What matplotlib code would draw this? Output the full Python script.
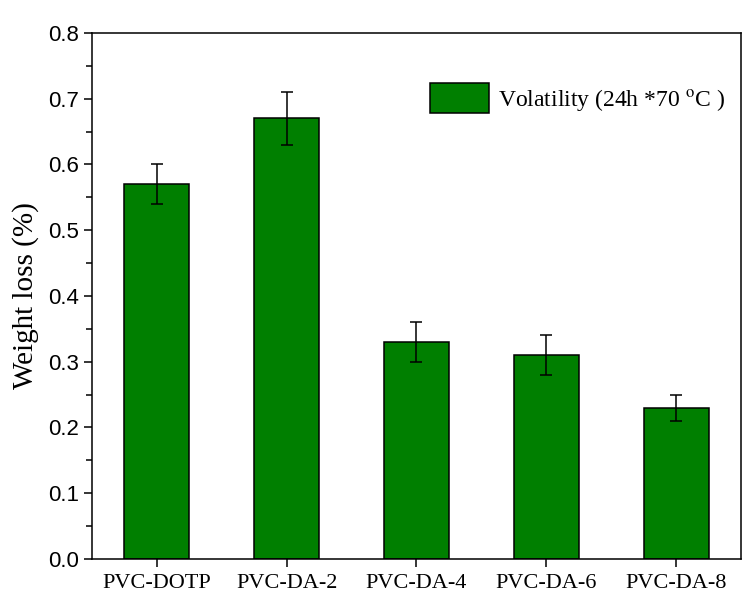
import numpy as np
import matplotlib
matplotlib.use("Agg")
import matplotlib.pyplot as plt
from matplotlib.ticker import MultipleLocator

samples = ["PVC-DOTP", "PVC-DA-2", "PVC-DA-4", "PVC-DA-6", "PVC-DA-8"]
weight_loss = [0.57, 0.67, 0.33, 0.31, 0.23]
loss_err = [0.03, 0.04, 0.03, 0.03, 0.02]

plt.rcParams['font.family'] = ['Liberation Serif', 'DejaVu Serif']
plt.rcParams['mathtext.fontset'] = 'stix'

fig = plt.figure(figsize=(7.43, 5.99), dpi=100)
ax = fig.add_axes([0.1238, 0.0668, 0.8735, 0.8782])

x = np.arange(len(samples))
ax.bar(x, weight_loss, width=0.5, color='#007f00', edgecolor='black', linewidth=1.1,
       yerr=loss_err, capsize=4.5, error_kw={'elinewidth': 1.1, 'capthick': 1.1, 'ecolor': 'black'},
       label=r'Volatility (24h *70 $^{\mathrm{o}}$C )', zorder=2)

ax.set_xlim(-0.5, 4.5)
ax.set_ylim(0, 0.8)
ax.yaxis.set_major_locator(MultipleLocator(0.1))
ax.yaxis.set_minor_locator(MultipleLocator(0.05))
ax.set_xticks(x)
ax.set_xticklabels(samples, fontsize=16)
for lbl in ax.get_yticklabels():
    lbl.set_fontfamily('Liberation Sans')
    lbl.set_fontsize(16)
ax.tick_params(axis='both', which='major', direction='out', length=6, width=1.1)
ax.tick_params(axis='y', which='minor', direction='out', length=4, width=1.1)
ax.tick_params(axis='x', pad=5)
for s in ax.spines.values():
    s.set_linewidth(1.1)

ax.set_ylabel('Weight loss (%)', fontsize=21, labelpad=6)

# legend sits in the upper right, no frame
ax.legend(loc='upper right', bbox_to_anchor=(1.009, 0.945), frameon=False, fontsize=17,
          handlelength=2.5, handleheight=1.55, handletextpad=0.4)

fig.savefig('out.png', dpi=100)
